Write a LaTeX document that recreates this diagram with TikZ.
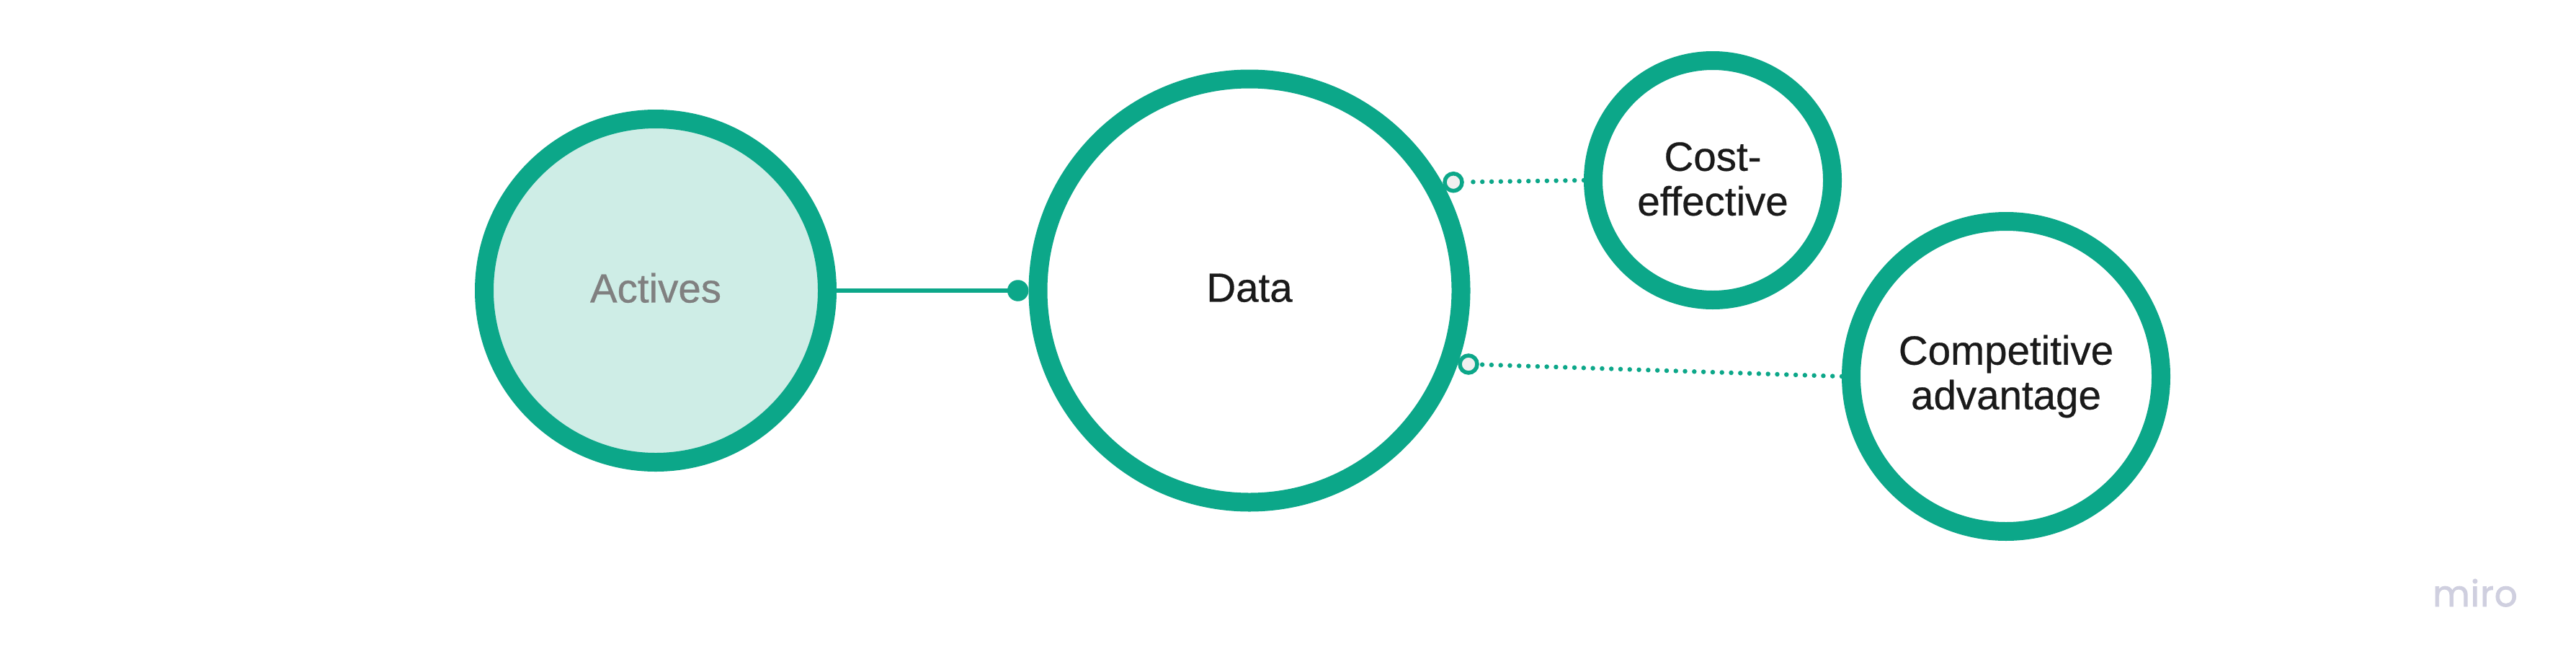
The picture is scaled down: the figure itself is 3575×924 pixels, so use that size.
\documentclass[tikz,border=0pt]{standalone}
\usepackage{fontspec}
\setmainfont{Liberation Sans}[FakeBold=0.5]
\newfontfamily\mirofont{Poppins}[FakeBold=1.8,LetterSpace=2]
\definecolor{mirogreen}{HTML}{0CA789}
\definecolor{mirotint}{HTML}{CEEDE6}
\definecolor{miroink}{HTML}{1A1A1A}
\definecolor{mirogrey}{HTML}{808080}
\definecolor{miromark}{HTML}{CFCFDF}
\definecolor{miroopen}{HTML}{F0F0F0}
\tikzset{
  ring/.style={circle,draw=mirogreen,line width=26pt,fill=white,inner sep=0pt,align=center,
    text=miroink,font=\fontsize{56.5}{62}\selectfont},
  soliddot/.style={circle,fill=mirogreen,inner sep=0pt,minimum size=29.5pt},
  opendot/.style={circle,draw=mirogreen,line width=5.5pt,fill=miroopen,inner sep=0pt,minimum size=24pt},
  solidlink/.style={draw=mirogreen,line width=6pt},
  dotlink/.style={draw=mirogreen,line width=6.5pt,line cap=round,dash pattern=on 0pt off 12.8pt},
}
\begin{document}
\begin{tikzpicture}[x=1pt,y=-1pt]
\useasboundingbox (0,0) rectangle (3575,924);
\node[ring,fill=mirotint,text=mirogrey,minimum size=476pt] (actives) at (910,403) {\raisebox{8pt}{Actives}};
\node[ring,minimum size=587pt] (data) at (1734,403) {\raisebox{8pt}{Data}};
\node[ring,minimum size=332pt] (cost) at (2377,250) {\raisebox{4pt}{Cost-}\\\raisebox{4pt}{effective}};
\node[ring,minimum size=430pt] (comp) at (2784,522) {\raisebox{-8pt}{Competitive}\\\raisebox{-8pt}{advantage}};
\node[soliddot] (d1) at (1412.7,403) {};
\node[opendot] (o1) at (2017,252.7) {};
\node[opendot] (o2) at (2038,505) {};
\draw[solidlink] (actives) -- (d1);
\draw[dotlink] (cost.west) -- (o1);
\draw[dotlink] (comp.west) -- (o2);
\node[text=miromark,font=\mirofont\fontsize{50}{50}\selectfont,anchor=base] (mark) at (3435,841) {miro};
\end{tikzpicture}
\end{document}
